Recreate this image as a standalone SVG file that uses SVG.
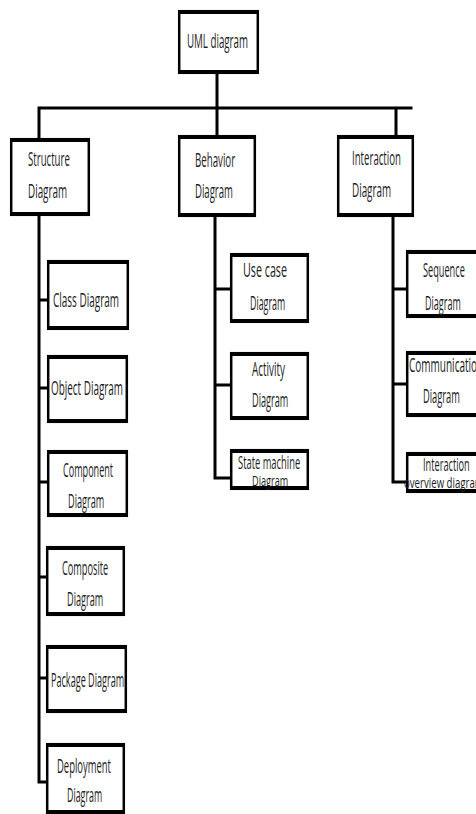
<svg xmlns="http://www.w3.org/2000/svg" width="476" height="814" viewBox="0 0 476 814">
  <style>
    .frame { fill: #ffffff; stroke: #000000; stroke-width: 2.5; }
    .bar { fill: #000000; }
    .wire { stroke: #000000; stroke-width: 3; fill: none; stroke-linecap: square; }
    text { font-family: "Open Sans", "Liberation Sans", sans-serif; font-size: 20px; fill: #1e1e1e; }
  </style>
  <rect x="0" y="0" width="476" height="814" fill="#ffffff"/>

  <!-- connectors: one trunk per category, short stubs into each child -->
  <g id="connectors">
    <path class="wire" d="M217 74 V108 M39 108 H411 M39 108 V138 M217 108 V135 M396 108 V135"/>
    <path class="wire" d="M39 216 V782 M39 300 H47 M39 388 H47 M39 482 H47 M39 577 H46 M39 678 H46 M39 782 H46"/>
    <path class="wire" d="M215 217 V478 M215 289 H230 M215 385 H230 M215 478 H230"/>
    <path class="wire" d="M393 217 V482 M393 289 H406 M393 384 H406 M393 482 H406"/>
  </g>

  <!-- labels use a narrow face: scale(0.55,1) with textLength in local units -->
  <g id="uml">
    <rect class="frame" x="179.2" y="11.2" width="78.6" height="61.6"/>
    <rect class="bar" x="178" y="10" width="81" height="4"/>
    <rect class="bar" x="178" y="70" width="81" height="4"/>
    <text transform="translate(187 48) scale(0.55 1)" textLength="111" lengthAdjust="spacingAndGlyphs">UML diagram</text>
  </g>

  <g id="structure">
    <rect class="frame" x="11.2" y="139.2" width="77.6" height="75.6"/>
    <rect class="bar" x="10" y="138" width="80" height="4"/>
    <rect class="bar" x="10" y="212" width="80" height="4"/>
    <text transform="translate(28 166) scale(0.55 1)" textLength="76" lengthAdjust="spacingAndGlyphs">Structure</text>
    <text transform="translate(28 198) scale(0.55 1)" textLength="71" lengthAdjust="spacingAndGlyphs">Diagram</text>
  </g>

  <g id="behavior">
    <rect class="frame" x="179.2" y="136.2" width="75.6" height="79.6"/>
    <rect class="bar" x="178" y="135" width="78" height="4"/>
    <rect class="bar" x="178" y="213" width="78" height="4"/>
    <text transform="translate(195 167) scale(0.55 1)" textLength="73" lengthAdjust="spacingAndGlyphs">Behavior</text>
    <text transform="translate(195 198) scale(0.55 1)" textLength="69" lengthAdjust="spacingAndGlyphs">Diagram</text>
  </g>

  <g id="interaction">
    <rect class="frame" x="338.2" y="136.2" width="74.6" height="79.6"/>
    <rect class="bar" x="337" y="135" width="77" height="4"/>
    <rect class="bar" x="337" y="213" width="77" height="4"/>
    <text transform="translate(352 165) scale(0.55 1)" textLength="89" lengthAdjust="spacingAndGlyphs">Interaction</text>
    <text transform="translate(352 197) scale(0.55 1)" textLength="71" lengthAdjust="spacingAndGlyphs">Diagram</text>
  </g>

  <!-- structure diagrams -->
  <g id="class">
    <rect class="frame" x="48.2" y="261.2" width="79.6" height="67.6"/>
    <rect class="bar" x="47" y="260" width="82" height="4"/>
    <rect class="bar" x="47" y="326" width="82" height="4"/>
    <text transform="translate(53 307) scale(0.55 1)" textLength="120" lengthAdjust="spacingAndGlyphs">Class Diagram</text>
  </g>

  <g id="object">
    <rect class="frame" x="48.2" y="356.2" width="78.6" height="65.6"/>
    <rect class="bar" x="47" y="355" width="81" height="4"/>
    <rect class="bar" x="47" y="419" width="81" height="4"/>
    <text transform="translate(51 395) scale(0.55 1)" textLength="131" lengthAdjust="spacingAndGlyphs">Object Diagram</text>
  </g>

  <g id="component">
    <rect class="frame" x="48.2" y="451.2" width="78.6" height="64.6"/>
    <rect class="bar" x="47" y="450" width="81" height="4"/>
    <rect class="bar" x="47" y="513" width="81" height="4"/>
    <text transform="translate(63 477) scale(0.55 1)" textLength="91" lengthAdjust="spacingAndGlyphs">Component</text>
    <text transform="translate(68 508) scale(0.55 1)" textLength="66" lengthAdjust="spacingAndGlyphs">Diagram</text>
  </g>

  <g id="composite">
    <rect class="frame" x="47.2" y="547.2" width="76.6" height="67.6"/>
    <rect class="bar" x="46" y="546" width="79" height="4"/>
    <rect class="bar" x="46" y="612" width="79" height="4"/>
    <text transform="translate(62 575) scale(0.55 1)" textLength="84" lengthAdjust="spacingAndGlyphs">Composite</text>
    <text transform="translate(67 606) scale(0.55 1)" textLength="66" lengthAdjust="spacingAndGlyphs">Diagram</text>
  </g>

  <g id="package">
    <rect class="frame" x="47.2" y="646.2" width="78.6" height="65.6"/>
    <rect class="bar" x="46" y="645" width="81" height="4"/>
    <rect class="bar" x="46" y="709" width="81" height="4"/>
    <text transform="translate(51 687) scale(0.55 1)" textLength="133" lengthAdjust="spacingAndGlyphs">Package Diagram</text>
  </g>

  <g id="deployment">
    <rect class="frame" x="47.2" y="744.2" width="76.6" height="72"/>
    <rect class="bar" x="46" y="743" width="79" height="4"/>
    <rect class="bar" x="46" y="810" width="79" height="4"/>
    <text transform="translate(57 773) scale(0.55 1)" textLength="98" lengthAdjust="spacingAndGlyphs">Deployment</text>
    <text transform="translate(67 802) scale(0.55 1)" textLength="64" lengthAdjust="spacingAndGlyphs">Diagram</text>
  </g>

  <!-- behavior diagrams -->
  <g id="usecase">
    <rect class="frame" x="231.2" y="254.2" width="76.6" height="67.6"/>
    <rect class="bar" x="230" y="253" width="79" height="4"/>
    <rect class="bar" x="230" y="319" width="79" height="4"/>
    <text transform="translate(243 277) scale(0.55 1)" textLength="80" lengthAdjust="spacingAndGlyphs">Use case</text>
    <text transform="translate(250 310) scale(0.55 1)" textLength="64" lengthAdjust="spacingAndGlyphs">Diagram</text>
  </g>

  <g id="activity">
    <rect class="frame" x="231.2" y="353.2" width="76.6" height="65.6"/>
    <rect class="bar" x="230" y="352" width="79" height="4"/>
    <rect class="bar" x="230" y="416" width="79" height="4"/>
    <text transform="translate(252 376) scale(0.55 1)" textLength="60" lengthAdjust="spacingAndGlyphs">Activity</text>
    <text transform="translate(252 407) scale(0.55 1)" textLength="66" lengthAdjust="spacingAndGlyphs">Diagram</text>
  </g>

  <!-- short box: the two label lines sit close together -->
  <g id="statemachine">
    <rect class="frame" x="231.2" y="450.2" width="76.6" height="38.6"/>
    <rect class="bar" x="230" y="449" width="79" height="4"/>
    <rect class="bar" x="230" y="486" width="79" height="4"/>
    <text transform="translate(238 469) scale(0.55 0.9)" textLength="113" lengthAdjust="spacingAndGlyphs">State machine</text>
    <text transform="translate(252 486) scale(0.55 0.7)" textLength="66" lengthAdjust="spacingAndGlyphs">Diagram</text>
  </g>

  <!-- interaction diagrams (boxes run past the right edge) -->
  <g id="sequence">
    <rect class="frame" x="407.2" y="251.2" width="74" height="65.6"/>
    <rect class="bar" x="406" y="250" width="76" height="4"/>
    <rect class="bar" x="406" y="314" width="76" height="4"/>
    <text transform="translate(423 277) scale(0.55 1)" textLength="76" lengthAdjust="spacingAndGlyphs">Sequence</text>
    <text transform="translate(425 310) scale(0.55 1)" textLength="65" lengthAdjust="spacingAndGlyphs">Diagram</text>
  </g>

  <g id="communication">
    <rect class="frame" x="407.2" y="352.2" width="74" height="63.6"/>
    <rect class="bar" x="406" y="351" width="76" height="4"/>
    <rect class="bar" x="406" y="413" width="76" height="4"/>
    <text transform="translate(409 372) scale(0.55 1)" textLength="135" lengthAdjust="spacingAndGlyphs">Communication</text>
    <text transform="translate(423 403) scale(0.55 1)" textLength="67" lengthAdjust="spacingAndGlyphs">Diagram</text>
  </g>

  <g id="overview">
    <rect class="frame" x="407.2" y="453.2" width="74" height="38.6"/>
    <rect class="bar" x="406" y="452" width="76" height="4"/>
    <rect class="bar" x="406" y="489" width="76" height="4"/>
    <text transform="translate(423 471) scale(0.55 0.9)" textLength="85" lengthAdjust="spacingAndGlyphs">Interaction</text>
    <text transform="translate(404 488) scale(0.55 0.7)" textLength="145" lengthAdjust="spacingAndGlyphs">overview diagram</text>
  </g>
</svg>
